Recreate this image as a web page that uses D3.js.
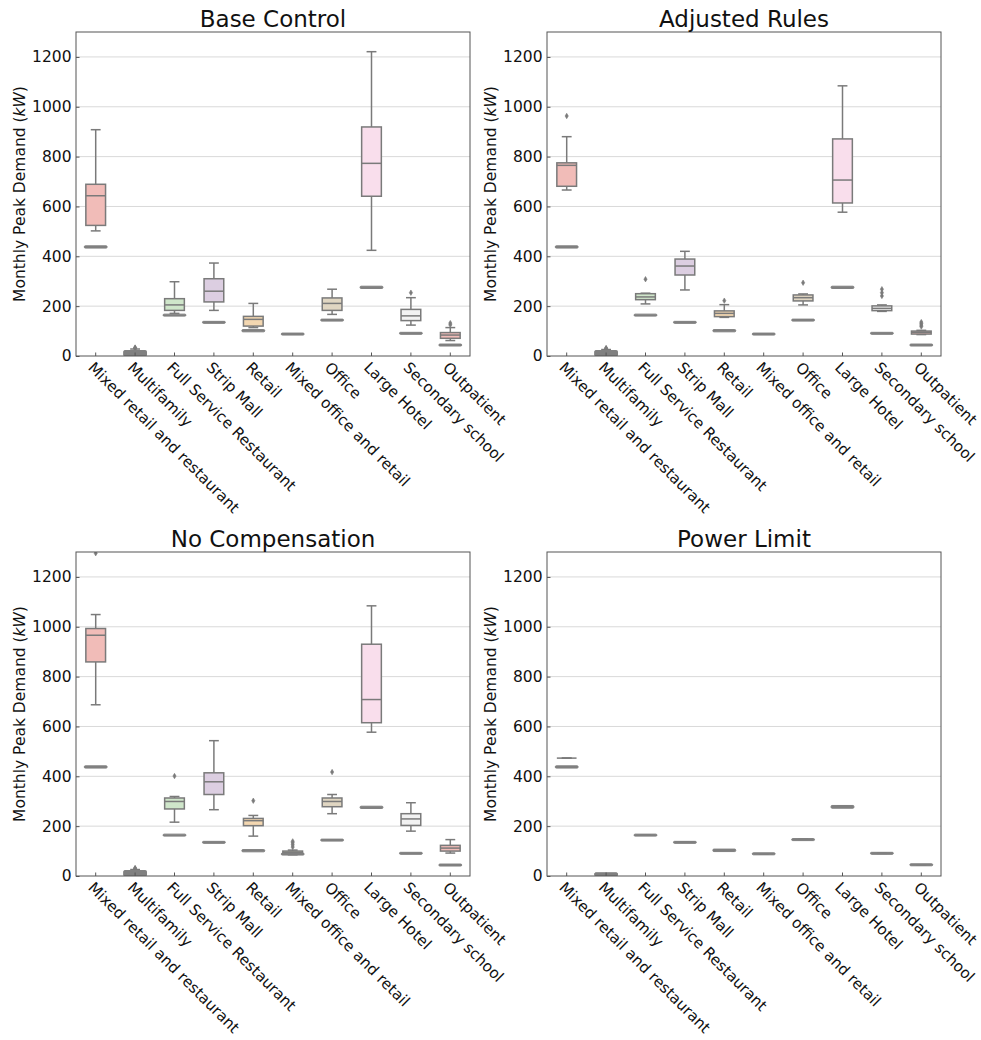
<!DOCTYPE html>
<html>
<head>
<meta charset="utf-8">
<script src="https://cdn.jsdelivr.net/npm/d3@7"></script>
<style>
  body { margin: 0; background: #fff; }
  text { font-family: "DejaVu Sans", sans-serif; }
</style>
</head>
<body>
<div id="chart-container"></div>
<script>
const categories = ['Mixed retail and restaurant', 'Multifamily', 'Full Service Restaurant', 'Strip Mall',
  'Retail', 'Mixed office and retail', 'Office', 'Large Hotel', 'Secondary school', 'Outpatient'];

const panelTitles = ['Base Control', 'Adjusted Rules', 'No Compensation', 'Power Limit'];

const yTicks = [0, 200, 400, 600, 800, 1000, 1200];

// uncontrolled reference demand for each building, [low, high]
const referenceDemand = [[433, 442], [0, 22], [160, 168], [131, 139], [97, 106],
  [84, 92], [140, 148], [271, 280], [87, 95], [40, 48]];
const powerLimitReference = [[433, 442], [0, 13], [160, 168], [131, 139], [98, 108],
  [85, 93], [142, 150], [272, 283], [87, 95], [41, 49]];

// box stats per building: [whisker low, q1, median, q3, whisker high]
const baseControlStats = [[502, 524, 643, 689, 908], [0, 3, 8, 14, 28], [171, 183, 205, 230, 298],
  [183, 217, 260, 310, 373], [114, 120, 147, 159, 211], [89, 89, 89, 89, 89], [167, 183, 211, 233, 268],
  [424, 641, 773, 919, 1221], [124, 142, 161, 187, 234], [62, 71, 84, 94, 114]];
const baseControlOutliers = [[], [30, 32, 34], [], [], [], [], [], [], [254], [125, 132]];

const adjustedRulesStats = [[666, 681, 765, 775, 880], [0, 3, 8, 14, 26], [209, 226, 237, 250, 252],
  [265, 325, 361, 389, 420], [155, 158, 171, 181, 206], [89, 89, 89, 89, 89], [205, 221, 234, 245, 249],
  [577, 614, 706, 871, 1084], [179, 182, 191, 201, 205], [86, 88, 95, 100, 103]];
const adjustedRulesOutliers = [[963], [28, 30, 32], [308], [], [222], [], [294], [],
  [241, 254, 268], [118, 124, 130, 136]];

const noCompensationStats = [[687, 859, 966, 993, 1049], [0, 3, 8, 14, 26], [216, 269, 299, 313, 319],
  [266, 327, 378, 414, 543], [160, 202, 222, 231, 243], [85, 88, 95, 100, 104], [250, 278, 299, 313, 327],
  [577, 615, 708, 930, 1084], [180, 203, 229, 250, 294], [92, 100, 112, 123, 146]];
const noCompensationOutliers = [[1295], [28, 30, 32], [401], [], [302], [116, 125, 133, 139], [417], [],
  [], []];

const powerLimitStats = [[473, 473, 473, 473, 473], [7, 7, 7, 7, 7], [164, 164, 164, 164, 164],
  [136, 136, 136, 136, 136], [104, 104, 104, 104, 104], [89, 89, 89, 89, 89], [147, 147, 147, 147, 147],
  [279, 279, 279, 279, 279], [91, 91, 91, 91, 91], [45, 45, 45, 45, 45]];
const powerLimitOutliers = [[], [], [], [], [], [], [], [], [], []];

const pastel1 = ['#fbb4ae', '#b3cde3', '#ccebc5', '#decbe4', '#fed9a6', '#ffffcc', '#e5d8bd', '#fddaec', '#f2f2f2'];

const panels = [
  { title: panelTitles[0], stats: baseControlStats, outliers: baseControlOutliers, ref: referenceDemand, left: 76, top: 32 },
  { title: panelTitles[1], stats: adjustedRulesStats, outliers: adjustedRulesOutliers, ref: referenceDemand, left: 547, top: 32 },
  { title: panelTitles[2], stats: noCompensationStats, outliers: noCompensationOutliers, ref: referenceDemand, left: 76, top: 552 },
  { title: panelTitles[3], stats: powerLimitStats, outliers: powerLimitOutliers, ref: powerLimitReference, left: 547, top: 552 },
];

const plotW = 394;
const plotH = 324;
const lineGray = '#7a7a7a';

// seaborn style desaturation
function boxColor(i) {
  const c = d3.hsl(pastel1[i % pastel1.length]);
  c.s *= 0.75;
  return c.formatHex();
}

const svg = d3.select('#chart-container')
  .append('svg')
  .attr('width', 981)
  .attr('height', 1040);

svg.append('rect').attr('width', 981).attr('height', 1040).attr('fill', '#fff');

const x = d3.scaleBand().domain(categories).range([0, plotW]).padding(0);
const y = d3.scaleLinear().domain([0, 1300]).range([plotH, 0]);

panels.forEach((p, pi) => drawPanel(p, pi));

function drawPanel(p, pi) {
  const g = svg.append('g').attr('transform', `translate(${p.left}, ${p.top})`);

  g.append('clipPath').attr('id', 'clip' + pi)
    .append('rect').attr('width', plotW).attr('height', plotH);

  // grid
  g.append('g')
    .selectAll('line')
    .data(yTicks.filter(t => t > 0))
    .enter()
    .append('line')
    .attr('x1', 0).attr('x2', plotW)
    .attr('y1', d => y(d)).attr('y2', d => y(d))
    .attr('stroke', '#d9d9d9')
    .attr('stroke-width', 1);

  const marks = g.append('g').attr('clip-path', `url(#clip${pi})`);
  const bw = x.bandwidth();

  const box = marks.selectAll('g.box')
    .data(p.stats.map((s, i) => ({ s, i, cat: categories[i], out: p.outliers[i] })))
    .enter()
    .append('g')
    .attr('class', 'box')
    .attr('transform', d => `translate(${x(d.cat) + bw / 2}, 0)`);

  const half = bw * 0.25;
  const cap = bw * 0.125;

  // whiskers
  box.append('line')
    .attr('x1', 0).attr('x2', 0)
    .attr('y1', d => y(d.s[4])).attr('y2', d => y(d.s[3]))
    .attr('stroke', lineGray).attr('stroke-width', 1.5);
  box.append('line')
    .attr('x1', 0).attr('x2', 0)
    .attr('y1', d => y(d.s[1])).attr('y2', d => y(d.s[0]))
    .attr('stroke', lineGray).attr('stroke-width', 1.5);
  box.append('line')
    .attr('x1', -cap).attr('x2', cap)
    .attr('y1', d => y(d.s[4])).attr('y2', d => y(d.s[4]))
    .attr('stroke', lineGray).attr('stroke-width', 1.5);
  box.append('line')
    .attr('x1', -cap).attr('x2', cap)
    .attr('y1', d => y(d.s[0])).attr('y2', d => y(d.s[0]))
    .attr('stroke', lineGray).attr('stroke-width', 1.5);

  box.append('rect')
    .attr('x', -half)
    .attr('width', half * 2)
    .attr('y', d => y(d.s[3]))
    .attr('height', d => y(d.s[1]) - y(d.s[3]))
    .attr('fill', d => boxColor(d.i))
    .attr('stroke', lineGray)
    .attr('stroke-width', 1.5);

  box.append('line')
    .attr('x1', -half).attr('x2', half)
    .attr('y1', d => y(d.s[2])).attr('y2', d => y(d.s[2]))
    .attr('stroke', lineGray).attr('stroke-width', 1.5);

  box.selectAll('path.outlier')
    .data(d => d.out)
    .enter()
    .append('path')
    .attr('class', 'outlier')
    .attr('d', 'M0,-2.7L1.6,0L0,2.7L-1.6,0Z')
    .attr('transform', v => `translate(0, ${y(v)})`)
    .attr('fill', lineGray)
    .attr('stroke', lineGray)
    .attr('stroke-width', 0.6);

  // reference demand bars
  const rw = bw * 0.29;
  marks.selectAll('rect.ref')
    .data(p.ref.map((r, i) => ({ r, cat: categories[i] })))
    .enter()
    .append('rect')
    .attr('class', 'ref')
    .attr('x', d => x(d.cat) + bw / 2 - rw)
    .attr('width', rw * 2)
    .attr('y', d => y(d.r[1]))
    .attr('height', d => y(d.r[0]) - y(d.r[1]))
    .attr('rx', 1)
    .attr('fill', '#808080')
    .attr('stroke', '#808080')
    .attr('stroke-width', 1);

  // frame
  g.append('rect')
    .attr('width', plotW).attr('height', plotH)
    .attr('fill', 'none')
    .attr('stroke', '#555')
    .attr('stroke-width', 1);

  // y axis
  const yAxis = g.append('g')
    .call(d3.axisLeft(y).tickValues(yTicks).tickFormat(d3.format('d')).tickSize(-3.5).tickPadding(4.5));
  yAxis.select('.domain').remove();
  yAxis.selectAll('line').attr('stroke', '#555');
  yAxis.selectAll('text')
    .attr('font-size', 15.5)
    .attr('fill', '#111')
    .style('font-family', '"DejaVu Sans", sans-serif');

  // x axis
  const xAxis = g.append('g')
    .attr('transform', `translate(0, ${plotH})`)
    .call(d3.axisBottom(x).tickSize(-3.5).tickPadding(0));
  xAxis.select('.domain').remove();
  xAxis.selectAll('line').attr('stroke', '#555');
  xAxis.selectAll('text')
    .attr('font-size', 15.2)
    .attr('fill', '#111')
    .attr('text-anchor', 'start')
    .attr('y', 0)
    .attr('dy', '0.78em')
    .attr('transform', 'translate(0, 4) rotate(45)')
    .style('font-family', '"DejaVu Sans", sans-serif');

  g.append('text')
    .attr('x', plotW / 2)
    .attr('y', -5)
    .attr('text-anchor', 'middle')
    .attr('font-size', 23)
    .attr('fill', '#111')
    .text(p.title);

  const yl = g.append('text')
    .attr('transform', `translate(-56, ${plotH / 2}) rotate(-90)`)
    .attr('text-anchor', 'middle')
    .attr('dominant-baseline', 'central')
    .attr('font-size', 15.5)
    .attr('fill', '#111');
  yl.append('tspan').text('Monthly Peak Demand (');
  yl.append('tspan').attr('font-style', 'italic').text('kW');
  yl.append('tspan').text(')');
}
</script>
</body>
</html>
